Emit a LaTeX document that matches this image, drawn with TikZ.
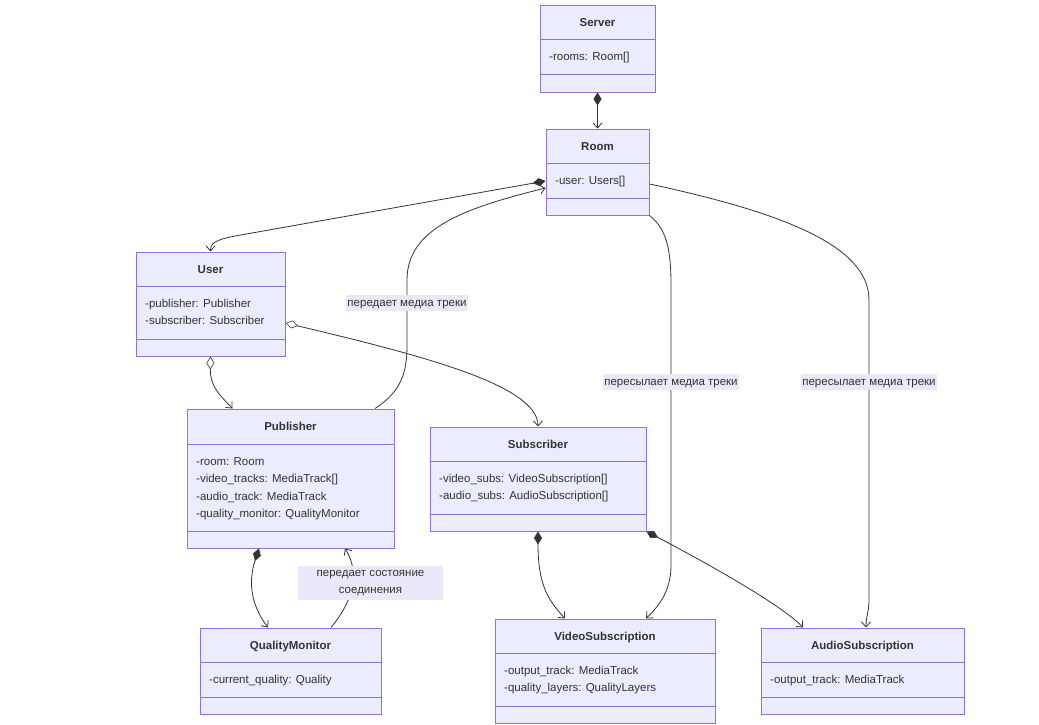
\documentclass[tikz,border=0pt]{standalone}
\usepackage{fontspec}
\setmainfont{Liberation Sans}
\usetikzlibrary{arrows.meta,fit,calc}
\definecolor{clsfill}{HTML}{ECECFF}
\definecolor{clsline}{HTML}{9370DB}
\definecolor{ink}{HTML}{333333}
\definecolor{lblfill}{HTML}{E9E9F9}
\tikzset{
  clsbox/.style={draw=clsline, fill=clsfill, line width=1pt, inner sep=0pt},
  clssep/.style={draw=clsline, line width=1pt},
  clstitle/.style={font=\fontsize{11.5}{13}\selectfont\bfseries, text=ink, inner sep=0pt, anchor=base},
  clsattr/.style={font=\fontsize{11.5}{13}\selectfont, text=ink, inner sep=0pt, anchor=base west},
  edgebase/.style={draw=ink, line width=0.8pt},
  comp/.style={edgebase, arrows={Diamond[length=13pt,width=8pt,fill=ink,line width=0.6pt]-Straight Barb[length=5pt,width=9pt,line width=0.8pt]}},
  aggr/.style={edgebase, arrows={Diamond[open,length=13pt,width=8pt,fill=white,line width=0.6pt]-Straight Barb[length=5pt,width=9pt,line width=0.8pt]}},
  assoc/.style={edgebase, arrows={-Straight Barb[length=5pt,width=9pt,line width=0.8pt]}},
  lbl/.style={fill=lblfill, text=ink, font=\fontsize{11.5}{17}\selectfont, inner xsep=1pt, inner ysep=0pt, minimum height=16pt, text height=8.5pt, text depth=2.5pt, align=center},
  lbltwo/.style={fill=lblfill, text=ink, font=\fontsize{11.5}{17}\selectfont, inner sep=0pt, minimum width=145pt, minimum height=34pt, align=center},
}
\newcommand{\umlbox}[8]{%
  \node[clsbox, fit={(#2,#3)(#4,#5)}] (#1) {};
  \draw[clssep] (#2,#6) -- (#4,#6) (#2,#7) -- (#4,#7);
  \node[clstitle] at ({(#2+#4)/2},{(#3+#6)/2+4}) {#8};
}
\newcommand{\umlattr}[3]{\node[clsattr] at (#1,{#2+4}) {#3};}
\begin{document}
\begin{tikzpicture}[x=1pt,y=-1pt]
\useasboundingbox (0,0) rectangle (1039,725);
% classes
\umlbox{server}{540}{6}{655}{92}{40}{75}{Server}
\umlattr{549}{57}{-rooms: Room[]}
\umlbox{room}{546}{129}{649}{215}{163}{198}{Room}
\umlattr{555}{180}{-user: Users[]}
\umlbox{user}{136}{252}{285}{356}{286}{339}{User}
\umlattr{145}{303}{-publisher: Publisher}
\umlattr{145}{320.5}{-subscriber: Subscriber}
\umlbox{publisher}{187}{409}{394}{548}{444}{531}{Publisher}
\umlattr{196}{461}{-room: Room}
\umlattr{196}{478.5}{-video\_tracks: MediaTrack[]}
\umlattr{196}{496}{-audio\_track: MediaTrack}
\umlattr{196}{513.5}{-quality\_monitor: QualityMonitor}
\umlbox{subscriber}{430}{427}{646}{531}{461}{514}{Subscriber}
\umlattr{439}{478}{-video\_subs: VideoSubscription[]}
\umlattr{439}{495.5}{-audio\_subs: AudioSubscription[]}
\umlbox{qm}{200}{628}{381}{714}{662}{697}{QualityMonitor}
\umlattr{209}{679}{-current\_quality: Quality}
\umlbox{videosub}{495}{619}{715}{723}{653}{706}{VideoSubscription}
\umlattr{504}{670}{-output\_track: MediaTrack}
\umlattr{504}{687.5}{-quality\_layers: QualityLayers}
\umlbox{audiosub}{761}{628}{964}{714}{662}{697}{AudioSubscription}
\umlattr{770}{679}{-output\_track: MediaTrack}
% connectors
\draw[comp] (server.south) -- (room.north);
\draw[comp] ([yshift=-9pt]room.west) -- (235,236) .. controls (215,240) and (210.5,243) .. (user.north);
\draw[assoc] ([xshift=84.5pt]publisher.north) .. controls (400,392) and (407,375) .. (407,345) -- (407,280) .. controls (407,228) and (465,208) .. ([yshift=-16pt]room.west);
\draw[aggr] (user.south) .. controls (210,388) and (222,397) .. ([xshift=-58pt]publisher.north);
\draw[aggr] ([yshift=-19pt]user.east) .. controls (420,355) and (538,385) .. (subscriber.north);
\draw[assoc] (room.south east) .. controls (665,228) and (671,245) .. (671,285) -- (671,565) .. controls (671,590) and (660,605) .. ([xshift=41pt]videosub.north);
\draw[assoc] ([yshift=-12pt]room.east) .. controls (780,212) and (869,245) .. (869,300) -- (869,600) .. controls (869,612) and (866,616) .. ([xshift=3.5pt]audiosub.north);
\draw[comp] ([xshift=-31.5pt]publisher.south) .. controls (247,585) and (253,608) .. ([xshift=-22.5pt]qm.north);
\draw[assoc] ([xshift=40.5pt]qm.north) .. controls (350,605) and (362,575) .. ([xshift=54.5pt]publisher.south);
\draw[comp] (subscriber.south) .. controls (538,585) and (548,600) .. ([xshift=-40pt]videosub.north);
\draw[comp] (subscriber.south east) .. controls (720,570) and (785,608) .. ([xshift=-59.5pt]audiosub.north);
% labels
\node[lbl] (l1) at (407,303) {передает медиа треки};
\node[lbl] (l2) at (671,382) {пересылает медиа треки};
\node[lbl] (l3) at (869,382) {пересылает медиа треки};
\node[lbltwo] (l4) at (370.5,583) {передает состояние\\соединения};
\end{tikzpicture}
\end{document}
